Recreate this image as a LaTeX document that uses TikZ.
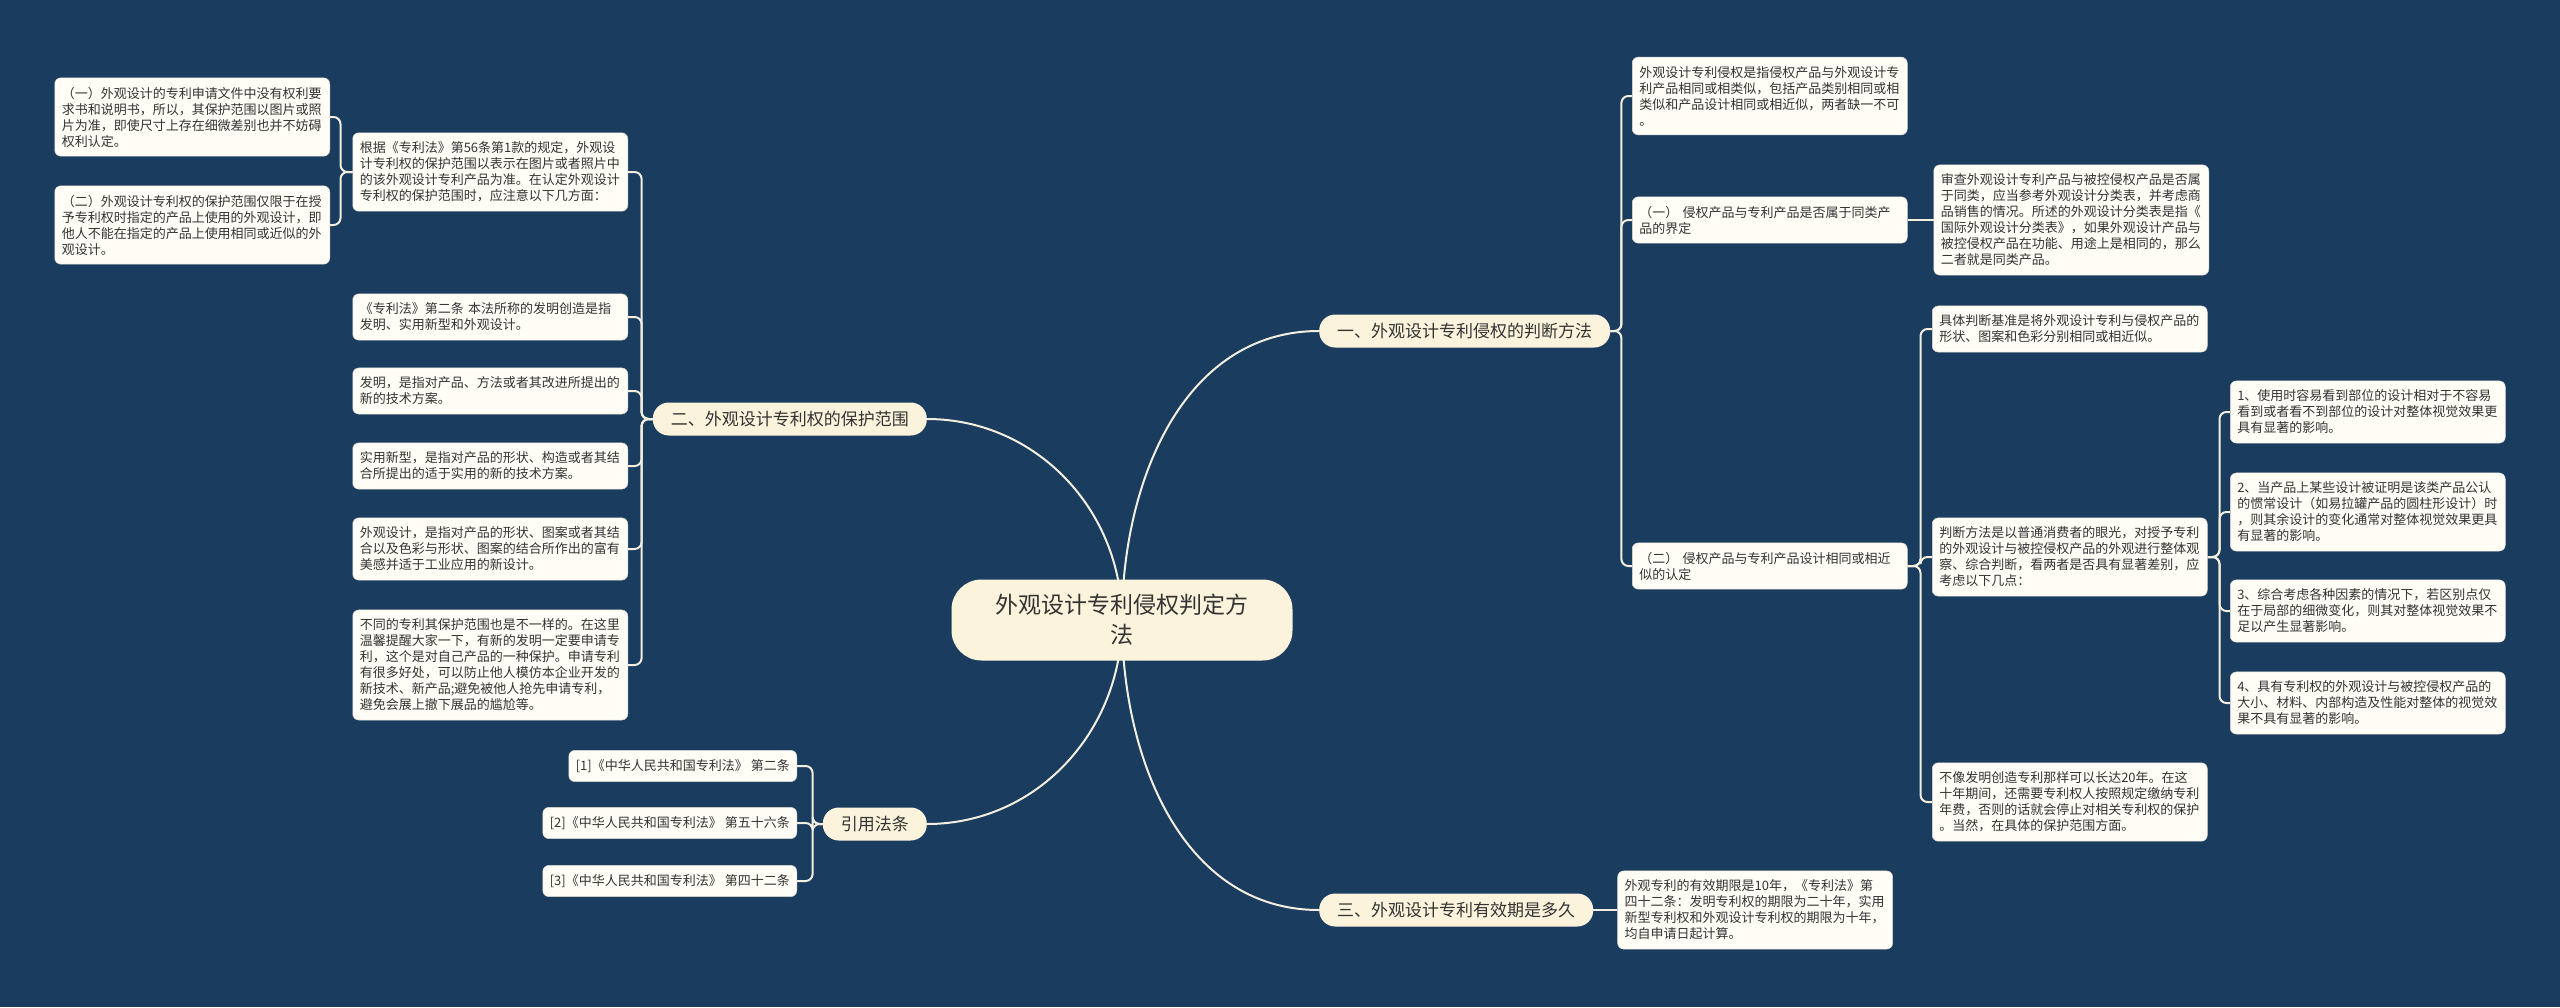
\documentclass[tikz,border=0pt]{standalone}
\usepackage{fontspec}
\setmainfont{Noto Sans CJK SC}
\usetikzlibrary{positioning}
\definecolor{bgnavy}{HTML}{1A3D5F}
\definecolor{paper}{HTML}{FFFDF6}
\definecolor{cream}{HTML}{FBF3DC}
\definecolor{ink}{HTML}{333333}
\definecolor{wirecol}{HTML}{F3EEDD}
\pgfdeclarelayer{bg}
\pgfdeclarelayer{wires}
\pgfsetlayers{bg,wires,main}
\tikzset{
    card/.style={fill=paper, draw=paper!85!black, line width=0.5pt, rounded corners=6pt, text=ink, align=left, inner xsep=7pt, inner ysep=9pt, font=\fontsize{13}{16}\selectfont},
    note/.style={card, text width=261pt},
    branch/.style={fill=cream, rounded corners=16pt, minimum height=33pt, inner xsep=18pt, text=ink, font=\fontsize{17}{20}\selectfont},
    root/.style={fill=cream, rounded corners=30pt, minimum width=341pt, minimum height=81pt, align=center, text=ink, font=\fontsize{23}{30}\selectfont},
    wire/.style={draw=wirecol, line width=2pt, rounded corners=7pt}
}

\begin{document}
\begin{tikzpicture}[x=1pt, y=1pt, node distance=26pt]
        \begin{pgfonlayer}{bg}
            \fill[bgnavy] (0,0) rectangle (2560,-1007);
        \end{pgfonlayer}
        \useasboundingbox (0,0) rectangle (2560,-1007);

        % Root and main branches
        \node (root) [root] at (1122,-620) {外观设计专利侵权判定方\\法};
        \node (b1) [branch, anchor=west] at (1319,-331) {一、外观设计专利侵权的判断方法};
        \node (b2) [branch, anchor=east] at (927,-419) {二、外观设计专利权的保护范围};
        \node (b3) [branch, anchor=east] at (927,-824) {引用法条};
        \node (b4) [branch, anchor=west] at (1319,-910) {三、外观设计专利有效期是多久};

        % Branch one
        \node (A1) [note, anchor=west] at (1632,-96) {外观设计专利侵权是指侵权产品与外观设计专\\利产品相同或相类似，包括产品类别相同或相\\类似和产品设计相同或相近似，两者缺一不可\\。};
        \node (A2) [note, anchor=west] at (1632,-220) {（一） 侵权产品与专利产品是否属于同类产\\品的界定};
        \node (A3) [note, anchor=west] at (1632,-566) {（二） 侵权产品与专利产品设计相同或相近\\似的认定};
        \node (B1) [note, right=of A2] {审查外观设计专利产品与被控侵权产品是否属\\于同类，应当参考外观设计分类表，并考虑商\\品销售的情况。所述的外观设计分类表是指《\\国际外观设计分类表》，如果外观设计产品与\\被控侵权产品在功能、用途上是相同的，那么\\二者就是同类产品。};
        \node (C1) [note, anchor=west] at (1932,-329) {具体判断基准是将外观设计专利与侵权产品的\\形状、图案和色彩分别相同或相近似。};
        \node (C2) [note, anchor=west] at (1932,-557) {判断方法是以普通消费者的眼光，对授予专利\\的外观设计与被控侵权产品的外观进行整体观\\察、综合判断，看两者是否具有显著差别，应\\考虑以下几点：};
        \node (C3) [note, anchor=west] at (1932,-802) {不像发明创造专利那样可以长达20年。在这\\十年期间，还需要专利权人按照规定缴纳专利\\年费，否则的话就会停止对相关专利权的保护\\。当然，在具体的保护范围方面。};
        \node (D1) [note, anchor=west] at (2230,-412) {1、使用时容易看到部位的设计相对于不容易\\看到或者看不到部位的设计对整体视觉效果更\\具有显著的影响。};
        \node (D2) [note, anchor=west] at (2230,-512) {2、当产品上某些设计被证明是该类产品公认\\的惯常设计（如易拉罐产品的圆柱形设计）时\\，则其余设计的变化通常对整体视觉效果更具\\有显著的影响。};
        \node (D3) [note, anchor=west] at (2230,-611) {3、综合考虑各种因素的情况下，若区别点仅\\在于局部的细微变化，则其对整体视觉效果不\\足以产生显著影响。};
        \node (D4) [note, anchor=west] at (2230,-703) {4、具有专利权的外观设计与被控侵权产品的\\大小、材料、内部构造及性能对整体的视觉效\\果不具有显著的影响。};

        % Branch two
        \node (M1) [note, anchor=east] at (628,-172) {根据《专利法》第56条第1款的规定，外观设\\计专利权的保护范围以表示在图片或者照片中\\的该外观设计专利产品为准。在认定外观设计\\专利权的保护范围时，应注意以下几方面：};
        \node (M2) [note, anchor=east] at (628,-317) {《专利法》第二条 本法所称的发明创造是指\\发明、实用新型和外观设计。};
        \node (M3) [note, anchor=east] at (628,-391) {发明，是指对产品、方法或者其改进所提出的\\新的技术方案。};
        \node (M4) [note, anchor=east] at (628,-466) {实用新型，是指对产品的形状、构造或者其结\\合所提出的适于实用的新的技术方案。};
        \node (M5) [note, anchor=east] at (628,-549) {外观设计，是指对产品的形状、图案或者其结\\合以及色彩与形状、图案的结合所作出的富有\\美感并适于工业应用的新设计。};
        \node (M6) [note, anchor=east] at (628,-665) {不同的专利其保护范围也是不一样的。在这里\\温馨提醒大家一下，有新的发明一定要申请专\\利，这个是对自己产品的一种保护。申请专利\\有很多好处，可以防止他人模仿本企业开发的\\新技术、新产品;避免被他人抢先申请专利，\\避免会展上撤下展品的尴尬等。};
        \node (L1) [note, anchor=east] at (330,-117) {（一）外观设计的专利申请文件中没有权利要\\求书和说明书，所以，其保护范围以图片或照\\片为准，即使尺寸上存在细微差别也并不妨碍\\权利认定。};
        \node (L2) [note, anchor=east] at (330,-225) {（二）外观设计专利权的保护范围仅限于在授\\予专利权时指定的产品上使用的外观设计，即\\他人不能在指定的产品上使用相同或近似的外\\观设计。};

        % Cited articles
        \node (R1) [card, anchor=east] at (797,-766) {[1]《中华人民共和国专利法》 第二条};
        \node (R2) [card, anchor=east] at (797,-823) {[2]《中华人民共和国专利法》 第五十六条};
        \node (R3) [card, anchor=east] at (797,-881) {[3]《中华人民共和国专利法》 第四十二条};

        % Branch three
        \node (E1) [note, right=24pt of b4] {外观专利的有效期限是10年，《专利法》第\\四十二条：发明专利权的期限为二十年，实用\\新型专利权和外观设计专利权的期限为十年，\\均自申请日起计算。};

        % Connectors
        \begin{pgfonlayer}{wires}
            \draw[wire] (root.center) to[out=90, in=180] (b1.west);
            \draw[wire] (root.center) to[out=-90, in=180] (b4.west);
            \draw[wire] (root.center) to[out=90, in=0] (b2.east);
            \draw[wire] (root.center) to[out=-90, in=0] (b3.east);
            \foreach \k in {1,2,3} \draw[wire] (b1.east) -- ++(11pt,0) |- (A\k.west);
            \draw[wire] (A2.east) -- (B1.west);
            \foreach \k in {1,2,3} \draw[wire] (A3.east) -- ++(13pt,0) |- (C\k.west);
            \foreach \k in {1,2,3,4} \draw[wire] (C2.east) -- ++(12pt,0) |- (D\k.west);
            \foreach \k in {1,...,6} \draw[wire] (b2.west) -- ++(-11pt,0) |- (M\k.east);
            \foreach \k in {1,2} \draw[wire] (M1.west) -- ++(-12pt,0) |- (L\k.east);
            \foreach \k in {1,2,3} \draw[wire] (b3.west) -- ++(-10pt,0) |- (R\k.east);
            \draw[wire] (b4.east) -- (E1.west);
        \end{pgfonlayer}
\end{tikzpicture}
\end{document}
